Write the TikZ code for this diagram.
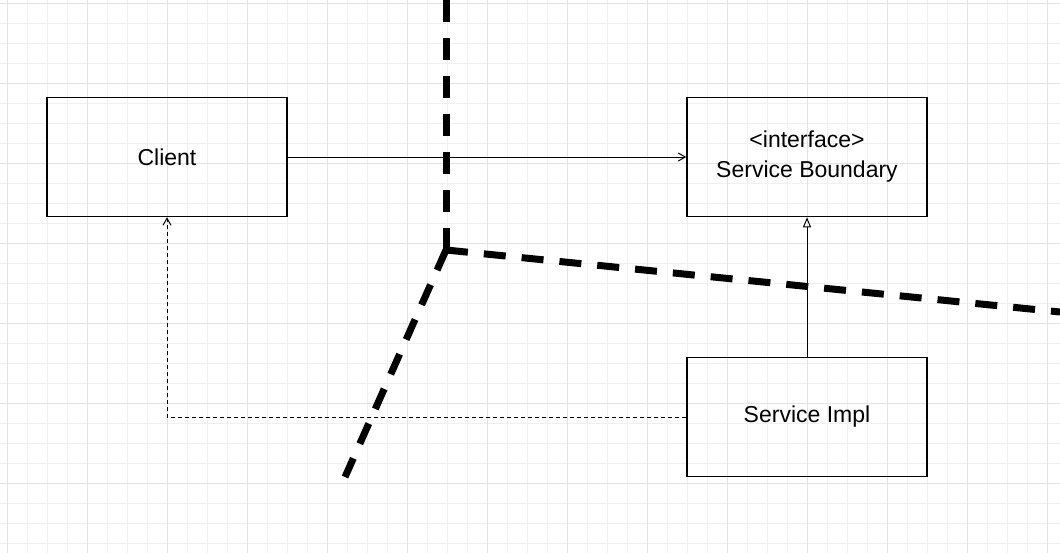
\documentclass[tikz,border=0pt]{standalone}
\usepackage{fontspec}
\setmainfont{Liberation Sans}
\usetikzlibrary{arrows.meta,positioning}
\tikzset{
  box/.style={draw, line width=1.5pt, minimum width=240pt, minimum height=119pt, align=center, font=\fontsize{23}{30}\selectfont},
  boundary/.style={line width=7pt, dash pattern=on 22pt off 16pt},
}
\begin{document}
\begin{tikzpicture}[x=1pt,y=-1pt]
  \useasboundingbox (0,0) rectangle (1060,552);
  \fill[white] (0,0) rectangle (1060,552);
  \draw[black!6, line width=0.6pt, step=20pt, xshift=7pt, yshift=-3pt] (-7,-20) grid (1060,560);
  \draw[black!11, line width=0.8pt, step=80pt, xshift=7pt, yshift=-3pt] (-7,-80) grid (1060,560);
  \node[box] (client) at (167,157) {Client};
  \node[box] (boundary) at (807,157) {<interface>\\Service Boundary};
  \node[box] (impl) at (807,417) {Service Impl};
  \coordinate (top) at (446,0);
  \coordinate (corner) at (446,250);
  \coordinate (right) at (1060,312);
  \coordinate (bottom) at (345,477);
  \draw[boundary] (top) -- (corner);
  \draw[boundary] (corner) -- (right);
  \draw[boundary] (corner) -- (bottom);
  \draw[-{Straight Barb[length=7pt,width=8pt]}, line width=1pt] (client) -- (boundary);
  \draw[-{Triangle[open,length=10pt,width=8pt]}, line width=1pt] (impl) -- (boundary);
  \draw[-{Straight Barb[length=7pt,width=8pt]}, line width=1pt, dash pattern=on 4pt off 3pt] (impl.west) -| (client.south);
\end{tikzpicture}
\end{document}
